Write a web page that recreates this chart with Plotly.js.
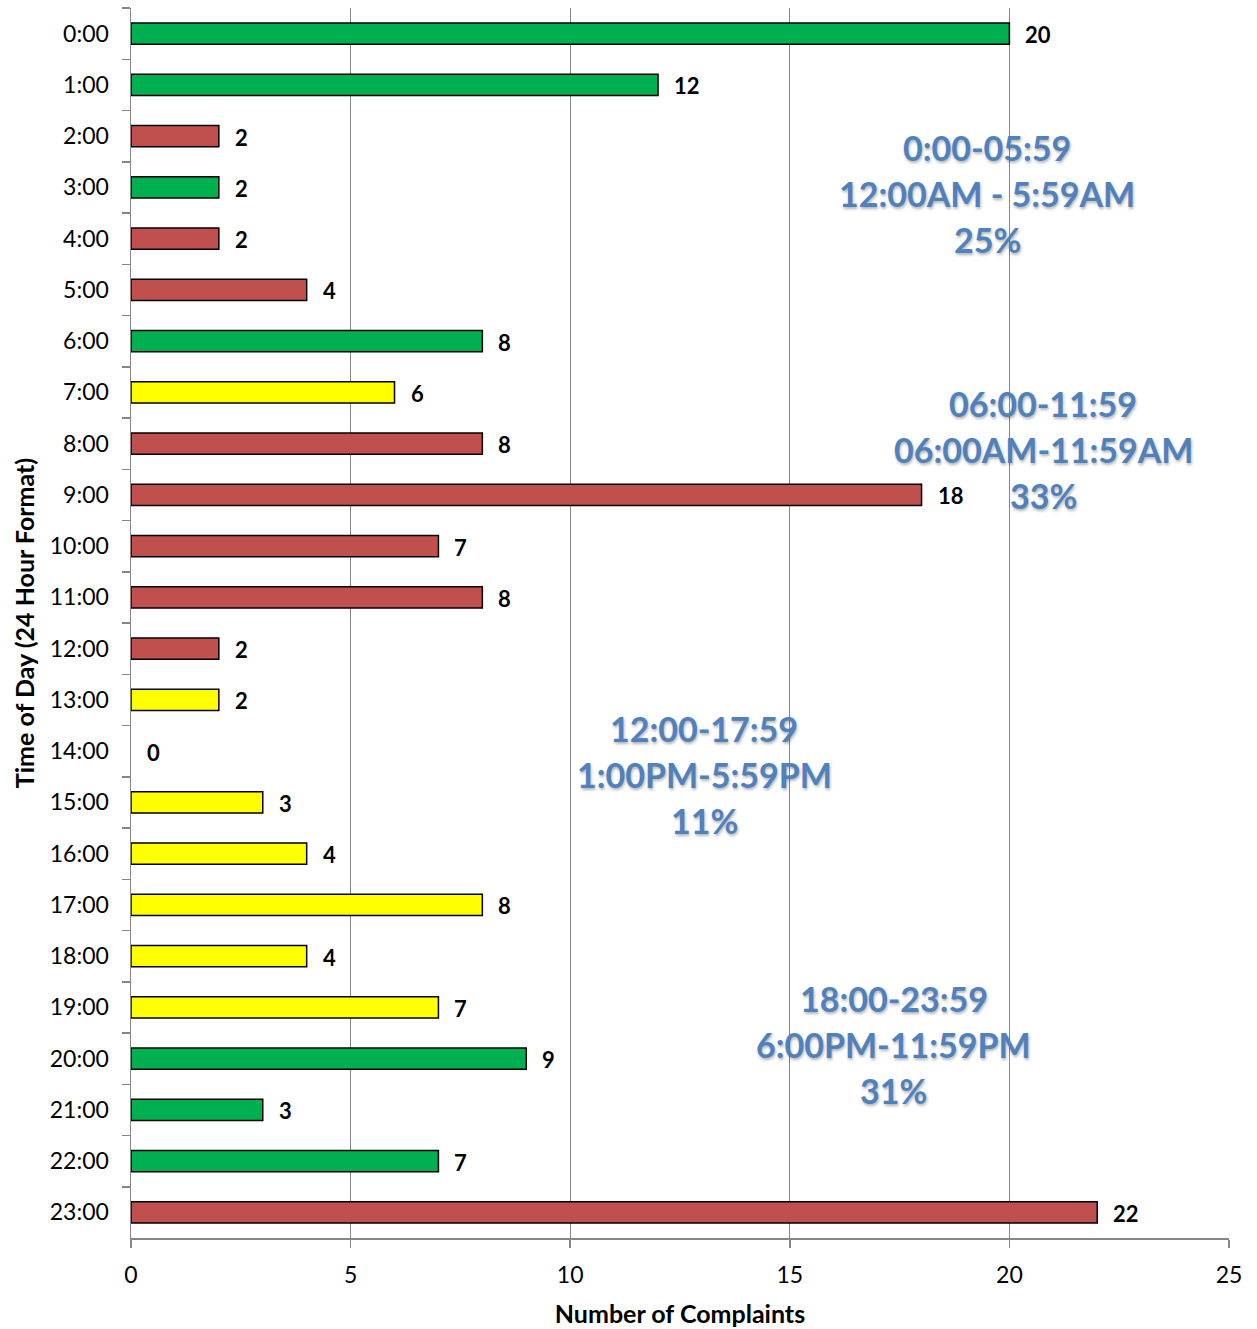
<!DOCTYPE html>
<html>
<head>
<meta charset="utf-8">
<script src="https://cdn.plot.ly/plotly-3.0.1.min.js"></script>
<style>html,body{margin:0;padding:0;background:#fff;}</style>
</head>
<body>
<div id="chart" style="width:1257px;height:1329px;"></div>
<script>
const hours = ["0:00","1:00","2:00","3:00","4:00","5:00","6:00","7:00","8:00","9:00","10:00","11:00",
  "12:00","13:00","14:00","15:00","16:00","17:00","18:00","19:00","20:00","21:00","22:00","23:00"];
const complaints = [20,12,2,2,2,4,8,6,8,18,7,8,2,2,0,3,4,8,4,7,9,3,7,22];
const colorGroup = ["G","G","R","G","R","R","G","Y","R","R","R","R","R","Y","Y","Y","Y","Y","Y","Y","G","G","G","R"];
const periodLines = [
  ["0:00-05:59", "12:00AM - 5:59AM", "25%"],
  ["06:00-11:59", "06:00AM-11:59AM", "33%"],
  ["12:00-17:59", "1:00PM-5:59PM", "11%"],
  ["18:00-23:59", "6:00PM-11:59PM", "31%"]
];
const xTitle = "Number of Complaints";
const yTitle = "Time of Day (24 Hour Format)";

const palette = {G:"#00B050", R:"#C0504D", Y:"#FFFF00"};
const FONT = "Lato, 'Open Sans', 'Liberation Sans', sans-serif";

const trace = {
  type: "bar",
  orientation: "h",
  x: complaints,
  y: hours,
  marker: {
    color: colorGroup.map(c => palette[c]),
    line: {color: "#000", width: complaints.map(v => v === 0 ? 0 : 1.5)}
  },
  hoverinfo: "x+y"
};

const annotations = complaints.map((v, i) => ({
  x: v, y: hours[i], xref: "x", yref: "y",
  text: String(v), showarrow: false, xanchor: "left", yanchor: "middle",
  xshift: 14, yshift: -1,
  font: {family: FONT, size: 22, color: "#000", weight: 700}
}));

// centre of each text block: x in data units, y in paper units (middle line)
const periodPos = [[19.49, 0.8488], [20.77, 0.6407], [13.05, 0.3772], [17.37, 0.1577]];
periodLines.forEach((lines, i) => {
  lines.forEach((t, j) => {
    annotations.push({
      x: periodPos[i][0], y: periodPos[i][1], xref: "x", yref: "paper",
      text: t, showarrow: false, xanchor: "center", yanchor: "middle",
      yshift: (1 - j) * 46,
      font: {family: FONT, size: 34, color: "#4F81BD", weight: 700,
             shadow: "1px 2px 3px rgba(0,0,0,0.3)"}
    });
  });
});

const layout = {
  width: 1257, height: 1329,
  margin: {l: 131, r: 28, t: 8, b: 91},
  paper_bgcolor: "#fff", plot_bgcolor: "#fff",
  bargap: 0.59,
  showlegend: false,
  font: {family: FONT, size: 23, color: "#000"},
  xaxis: {
    range: [0, 25], tick0: 0, dtick: 5,
    showgrid: true, gridcolor: "#868686", gridwidth: 1.3,
    showline: true, linecolor: "#868686", linewidth: 1.5,
    ticks: "outside", ticklen: 8, tickcolor: "#868686", tickwidth: 1.5,
    zeroline: false, mirror: false,
    ticklabelstandoff: 8,
    tickfont: {family: FONT, size: 23, color: "#000"},
    title: {text: xTitle, font: {family: FONT, size: 25, weight: 700, color: "#000"}, standoff: 18}
  },
  yaxis: {
    type: "category", autorange: "reversed",
    showline: true, linecolor: "#868686", linewidth: 1.5,
    ticks: "outside", tickson: "boundaries", ticklen: 8, tickcolor: "#868686", tickwidth: 1.5,
    showgrid: false, zeroline: false,
    tickfont: {family: FONT, size: 23, color: "#000"},
    ticklabelstandoff: 16,
    title: {text: yTitle, font: {family: FONT, size: 25, weight: 700, color: "#000"}, standoff: 8}
  },
  annotations: annotations
};

Plotly.newPlot("chart", [trace], layout, {displayModeBar: false, staticPlot: true});
</script>
</body>
</html>
